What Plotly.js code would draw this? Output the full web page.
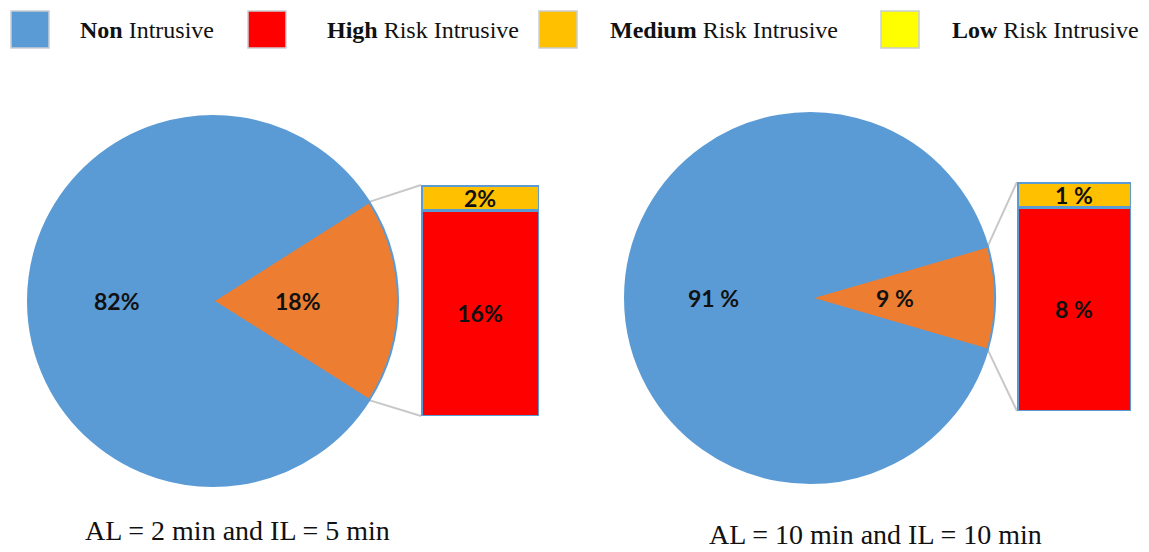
<!DOCTYPE html>
<html>
<head>
<meta charset="utf-8">
<script src="https://cdn.plot.ly/plotly-3.0.1.min.js"></script>
<style>html,body{margin:0;padding:0;background:#fff;}#chart{width:1149px;height:552px;}</style>
</head>
<body>
<div id="chart"></div>
<script>
// ---- data ----
const pieLabels = ["Intrusive", "Non Intrusive"];
const pieLeftValues = [18, 82];
const pieLeftText = ["18%", "82%"];
const pieRightValues = [9, 91];
const pieRightText = ["9 %", "91 %"];

const barLabels = ["High Risk Intrusive", "Medium Risk Intrusive"];
const barLeftValues = [16, 2];
const barLeftText = ["16%", "2%"];
const barRightValues = [8, 1];
const barRightText = ["8 %", "1 %"];

const legendBold = ["Non", "High", "Medium", "Low"];
const legendRest = ["Intrusive", "Risk Intrusive", "Risk Intrusive", "Risk Intrusive"];
const legendColors = ["#5B9BD5", "#FF0000", "#FFC000", "#FFFF00"];

const captions = ["AL = 2 min and IL = 5 min", "AL = 10 min and IL = 10 min"];

// ---- layout geometry (pixels) ----
const W = 1149, H = 552;
const px = x => x / W;
const py = y => 1 - y / H;

const pies = [
  {cx: 213, cy: 301, r: 185, values: pieLeftValues, text: pieLeftText},
  {cx: 810, cy: 298, r: 185, values: pieRightValues, text: pieRightText}
];
const bars = [
  {x0: 421, x1: 539, y0: 185, y1: 416, values: barLeftValues, text: barLeftText},
  {x0: 1017, x1: 1131, y0: 182, y1: 411, values: barRightValues, text: barRightText}
];

const pieColors = ["#ED7D31", "#5B9BD5"];
const barColors = ["#FF0000", "#FFC000"];
const labelFont = {family: "Lato, 'Liberation Sans', sans-serif", size: 23, color: "#111", weight: "bold"};
const serif = "'Liberation Serif', 'Times New Roman', serif";

const traces = [];
const shapes = [];
const annotations = [];
const layout = {
  width: W, height: H,
  margin: {l: 0, r: 0, t: 0, b: 0},
  paper_bgcolor: "#fff", plot_bgcolor: "rgba(0,0,0,0)",
  showlegend: false,
  barmode: "stack",
  bargap: 0
};

pies.forEach((p, i) => {
  const total = p.values.reduce((a, b) => a + b, 0);
  const frac = p.values[0] / total;
  const halfDeg = frac * 180;
  traces.push({
    type: "pie",
    labels: pieLabels,
    values: p.values,
    textinfo: "none",
    sort: false,
    direction: "clockwise",
    rotation: 90 - halfDeg,
    marker: {colors: pieColors, line: {color: "#5B9BD5", width: 2}},
    domain: {x: [px(p.cx - p.r), px(p.cx + p.r)], y: [py(p.cy + p.r), py(p.cy - p.r)]},
    hoverinfo: "label+percent"
  });
  // slice labels on each slice's bisector
  const bis = [0, Math.PI]; // orange slice centered at 3 o'clock, blue at 9 o'clock
  const rf = [0.46, 0.52];
  p.text.forEach((t, k) => {
    annotations.push({xref: "paper", yref: "paper",
      x: px(p.cx + rf[k] * p.r * Math.cos(bis[k])), y: py(p.cy),
      xanchor: "center", yanchor: "middle", showarrow: false,
      text: "<b>" + t + "</b>", font: labelFont});
  });
  // connector lines from wedge edge to bar corners
  const h = frac * Math.PI;
  const ex = p.cx + p.r * Math.cos(h);
  const eyTop = p.cy - p.r * Math.sin(h);
  const eyBot = p.cy + p.r * Math.sin(h);
  const b = bars[i];
  shapes.push({type: "line", xref: "paper", yref: "paper", x0: px(ex), y0: py(eyTop), x1: px(b.x0), y1: py(b.y0), line: {color: "#C8C8C8", width: 2}, layer: "below"});
  shapes.push({type: "line", xref: "paper", yref: "paper", x0: px(ex), y0: py(eyBot), x1: px(b.x0), y1: py(b.y1), line: {color: "#C8C8C8", width: 2}, layer: "below"});
});

bars.forEach((b, i) => {
  const xa = i === 0 ? "x" : "x2";
  const ya = i === 0 ? "y" : "y2";
  const total = b.values.reduce((a, c) => a + c, 0);
  b.values.forEach((v, k) => {
    traces.push({
      type: "bar",
      x: [""],
      y: [v],
      name: barLabels[k],
      text: ["<b>" + b.text[k] + "</b>"],
      textposition: "inside",
      insidetextanchor: "middle",
      constraintext: "none",
      textfont: labelFont,
      marker: {color: barColors[k], line: {color: "#5B9BD5", width: 3}},
      xaxis: xa, yaxis: ya,
      hoverinfo: "name+y"
    });
  });
  const axX = {domain: [px(b.x0), px(b.x1)], showgrid: false, zeroline: false, showticklabels: false, showline: false, fixedrange: true};
  const axY = {domain: [py(b.y1), py(b.y0)], range: [0, total], showgrid: false, zeroline: false, showticklabels: false, showline: false, fixedrange: true};
  if (i === 0) { layout.xaxis = axX; layout.yaxis = axY; }
  else { layout.xaxis2 = Object.assign(axX, {anchor: "y2"}); layout.yaxis2 = Object.assign(axY, {anchor: "x2"}); }
});

// custom legend
const legendBoxX = [11, 248, 539, 881];
const legendTextX = [78, 325, 608, 950];
legendColors.forEach((c, i) => {
  shapes.push({type: "rect", xref: "paper", yref: "paper",
    x0: px(legendBoxX[i]), x1: px(legendBoxX[i] + 38), y0: py(48), y1: py(11),
    fillcolor: c, line: {color: "#C9CDD4", width: 1.5}});
  annotations.push({xref: "paper", yref: "paper", x: px(legendTextX[i]), y: py(30),
    xanchor: "left", yanchor: "middle", showarrow: false,
    text: "<b>" + legendBold[i] + "</b> " + legendRest[i],
    font: {family: serif, size: 24, color: "#111"}});
});

// captions (bottom-anchored so they stay inside the page)
const capX = [237, 875], capBottom = [548, 552];
captions.forEach((t, i) => {
  annotations.push({xref: "paper", yref: "paper", x: px(capX[i]), y: py(capBottom[i]),
    xanchor: "center", yanchor: "bottom", showarrow: false, text: t,
    font: {family: serif, size: 28, color: "#111"}});
});

layout.shapes = shapes;
layout.annotations = annotations;

Plotly.newPlot("chart", traces, layout, {staticPlot: true, displayModeBar: false});
</script>
</body>
</html>
